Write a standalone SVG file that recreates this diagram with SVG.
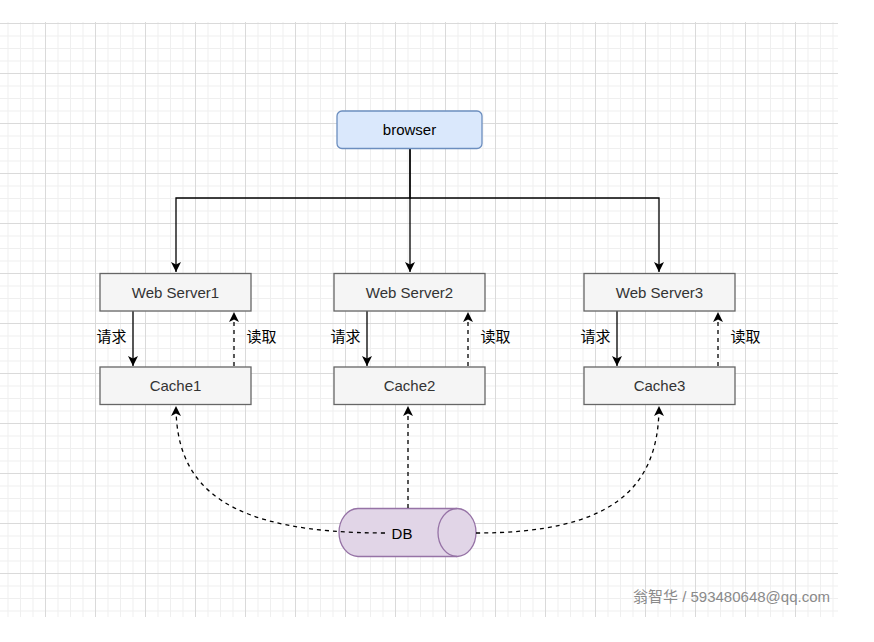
<svg xmlns="http://www.w3.org/2000/svg" width="874" height="642" viewBox="0 0 874 642">
<style>
.node rect{fill:#f5f5f5;stroke:#666666;stroke-width:1.3}
.node text{font-family:"Liberation Sans",Arial,sans-serif;font-size:15px;fill:#333333;text-anchor:middle}
.lbl{font-family:"Liberation Sans","Noto Sans CJK SC",sans-serif;font-size:15px;fill:#000;text-anchor:middle}
.edge{fill:none;stroke:#000;stroke-width:1.3}
.dash{stroke-dasharray:4 4}
</style>
<defs>
<pattern id="grid" x="45" y="23" width="50" height="50" patternUnits="userSpaceOnUse">
<path d="M13,0V50M25.5,0V50M38,0V50M0,13H50M0,25.5H50M0,38H50" stroke="#efefef" stroke-width="1" fill="none"/>
<path d="M0.5,0V50M0,0.5H50" stroke="#dadada" stroke-width="1" fill="none"/>
</pattern>
<marker id="arr" markerUnits="userSpaceOnUse" markerWidth="11" markerHeight="11" refX="10" refY="5" orient="auto" overflow="visible">
<path d="M0,0 L10,5 L0,10 L2.5,5 z" fill="#000" stroke="none"/>
</marker>
</defs>
<rect x="0" y="0" width="874" height="642" fill="#ffffff"/>
<rect x="0" y="22" width="838" height="595" fill="url(#grid)"/>

<g id="connectors">
<path class="edge" d="M410,148 V198 H176 V272" marker-end="url(#arr)"/>
<path class="edge" d="M410,148 V272" marker-end="url(#arr)"/>
<path class="edge" d="M410,198 H659 V272" marker-end="url(#arr)"/>

<path class="edge" d="M133,311 V366" marker-end="url(#arr)"/>
<path class="edge dash" d="M234,366 V312" marker-end="url(#arr)"/>
<path class="edge" d="M367,311 V366" marker-end="url(#arr)"/>
<path class="edge dash" d="M468,366 V312" marker-end="url(#arr)"/>
<path class="edge" d="M617,311 V366" marker-end="url(#arr)"/>
<path class="edge dash" d="M718,366 V312" marker-end="url(#arr)"/>

<text class="lbl" x="111.5" y="342">请求</text>
<text class="lbl" x="261.5" y="342">读取</text>
<text class="lbl" x="345.5" y="342">请求</text>
<text class="lbl" x="495.5" y="342">读取</text>
<text class="lbl" x="595.5" y="342">请求</text>
<text class="lbl" x="745.5" y="342">读取</text>
</g>

<g id="browser">
<rect x="337" y="111" width="145" height="37.5" rx="5" ry="5" fill="#dae8fc" stroke="#6c8ebf" stroke-width="1.3"/>
<text x="409.5" y="135" font-family="'Liberation Sans',Arial,sans-serif" font-size="15" fill="#000" text-anchor="middle">browser</text>
</g>

<g id="webserver1" class="node"><rect x="100" y="273.5" width="151" height="37.5"/><text x="175.5" y="297.5">Web Server1</text></g>
<g id="webserver2" class="node"><rect x="334" y="273.5" width="151" height="37.5"/><text x="409.5" y="297.5">Web Server2</text></g>
<g id="webserver3" class="node"><rect x="584" y="273.5" width="151" height="37.5"/><text x="659.5" y="297.5">Web Server3</text></g>

<g id="cache1" class="node"><rect x="100" y="367" width="151" height="37.5"/><text x="175.5" y="391">Cache1</text></g>
<g id="cache2" class="node"><rect x="334" y="367" width="151" height="37.5"/><text x="409.5" y="391">Cache2</text></g>
<g id="cache3" class="node"><rect x="584" y="367" width="151" height="37.5"/><text x="659.5" y="391">Cache3</text></g>

<g id="db">
<path d="M358,508.5 H457 A19,24 0 0 1 457,556.5 H358 A19,24 0 0 1 358,508.5 Z" fill="#e1d5e7" stroke="#9673a6" stroke-width="1.3"/>
<path d="M457,508.5 A19,24 0 0 0 457,556.5" fill="none" stroke="#9673a6" stroke-width="1.3"/>
<text x="402" y="539" font-family="'Liberation Sans',Arial,sans-serif" font-size="15" fill="#000" text-anchor="middle">DB</text>
</g>

<g id="db-connectors">
<path class="edge dash" d="M408,508 V406" marker-end="url(#arr)"/>
<path class="edge dash" d="M385,533 C230,533 176,490 176,406" marker-end="url(#arr)"/>
<path class="edge dash" d="M476,533 C610,533 659,490 659,406" marker-end="url(#arr)"/>
</g>

<text x="830" y="602" font-family="'Liberation Sans','Noto Sans CJK SC',sans-serif" font-size="15" fill="#8a8a8a" text-anchor="end">翁智华 / 593480648@qq.com</text>
</svg>
